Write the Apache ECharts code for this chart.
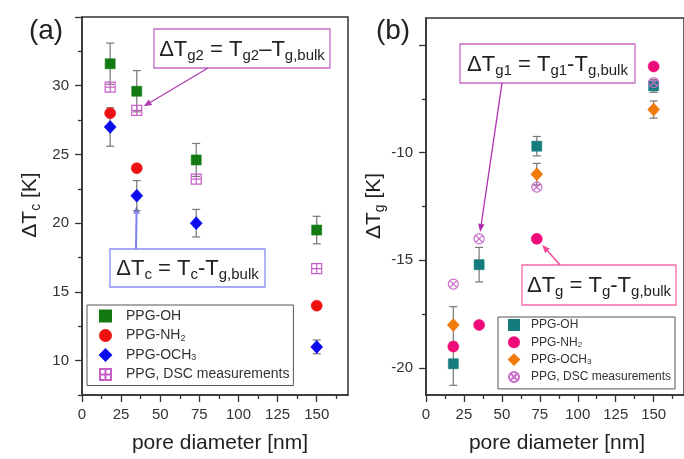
<!DOCTYPE html>
<html><head><meta charset="utf-8">
<script src="https://cdn.jsdelivr.net/npm/echarts@6/dist/echarts.min.js"></script>
<style>html,body{margin:0;padding:0;background:#fff}#c{width:684px;height:459px}</style>
</head><body><div id="c"></div>
<script>
// ---------------- data ----------------
const poreDiameter = [18, 35, 73, 150];
// panel (a): ΔTc [K]
const tcOH = [31.6, 29.6, 24.6, 19.5];
const tcOHErr = [1.5, 1.5, 1.2, 1.0];
const tcNH2 = [28.0, 24.0, null, 14.0];
const tcOCH3 = [27.0, 22.0, 20.0, 11.0];
const tcOCH3Err = [1.4, 1.1, 1.0, 0.5];
const tcDSC = [29.9, 28.2, 23.2, 16.7];
// panel (b): ΔTg [K]
const tgOH = [-19.8, -15.2, -9.7, -6.9];
const tgOHErr = [1.0, 0.8, 0.45, 0.3];
const tgNH2 = [-19.0, -18.0, -14.0, -6.0];
const tgOCH3 = [-18.0, null, -11.0, -8.0];
const tgOCH3Err = [0.85, null, 0.5, 0.4];
const tgDSC = [-16.1, -14.0, -11.6, -6.75];
// ticks
const xMajorTicks = [0, 25, 50, 75, 100, 125, 150];
const xMinorTicks = [12.5, 37.5, 62.5, 87.5, 112.5, 137.5, 162.5];
const xTickLabels = [0, 25, 50, 75, 100, 125, 150];
const tcMajorTicks = [10, 15, 20, 25, 30, 35];
const tcMinorTicks = [7.5, 12.5, 17.5, 22.5, 27.5, 32.5];
const tcTickLabels = [10, 15, 20, 25, 30];
const tgMajorTicks = [-20, -15, -10, -5];
const tgMinorTicks = [-17.5, -12.5, -7.5];
const tgTickLabels = [-20, -15, -10];
const legendLabels = ['PPG-OH', 'PPG-NH{s|2}', 'PPG-OCH{s|3}', 'PPG, DSC measurements'];

// ---------------- helpers ----------------
const FF = '"Liberation Sans", Arial, Helvetica, sans-serif';
const pts = ys => poreDiameter.map((x, i) => ys[i] == null ? null : [x, ys[i]]).filter(Boolean);
const errPts = (ys, es) => poreDiameter.map((x, i) => (ys[i] == null || es[i] == null) ? null : [x, ys[i], es[i]]).filter(Boolean);

const gridL = {left: 82, top: 17, right: 336, bottom: 64};
const gridR = {left: 426, top: 18, right: -19, bottom: 64};

function xAxis(gi, minor) {
  return {
    type: 'value', gridIndex: gi, min: 0, max: 170, position: 'bottom',
    axisLine: {show: !minor, onZero: false, lineStyle: {color: '#333', width: 1.5}},
    axisTick: {show: true, length: minor ? 4 : 7, customValues: minor ? xMinorTicks : xMajorTicks,
      lineStyle: {color: '#333', width: 1.3}},
    axisLabel: minor ? {show: false} : {show: true, customValues: xTickLabels, margin: 12, fontSize: 15,
      color: '#333', fontFamily: FF},
    splitLine: {show: false}
  };
}
function yAxis(gi, min, max, majors, minors, labels, minor) {
  return {
    type: 'value', gridIndex: gi, min, max, position: 'left',
    axisLine: {show: !minor, onZero: false, lineStyle: {color: '#333', width: 1.5}},
    axisTick: {show: true, length: minor ? 4 : 7, customValues: minor ? minors : majors,
      lineStyle: {color: '#333', width: 1.3}},
    axisLabel: minor ? {show: false} : {show: true, customValues: labels, margin: 13, fontSize: 15,
      color: '#333', fontFamily: FF},
    splitLine: {show: false}
  };
}
function scatter(name, gi, ys, symbol, size, color, hollow) {
  return {
    type: 'scatter', name, xAxisIndex: gi, yAxisIndex: gi, data: pts(ys), symbol, symbolSize: size,
    itemStyle: hollow ? {color: 'rgba(255,255,255,0)', borderColor: color, borderWidth: 1.2, opacity: 1}
                      : {color: color, borderColor: color, borderWidth: 0.6, opacity: 1},
    z: 5, silent: true
  };
}
function errSeries(gi, ys, es) {
  return {
    type: 'custom', xAxisIndex: gi, yAxisIndex: gi, data: errPts(ys, es), z: 2, silent: true,
    renderItem: (params, api) => {
      const x = api.value(0), y = api.value(1), e = api.value(2);
      const t = api.coord([x, y + e]), b = api.coord([x, y - e]);
      const w = 4, st = {stroke: '#777', lineWidth: 1.2};
      return {type: 'group', children: [
        {type: 'line', shape: {x1: t[0], y1: t[1], x2: b[0], y2: b[1]}, style: st},
        {type: 'line', shape: {x1: t[0] - w, y1: t[1], x2: t[0] + w, y2: t[1]}, style: st},
        {type: 'line', shape: {x1: b[0] - w, y1: b[1], x2: b[0] + w, y2: b[1]}, style: st}
      ]};
    }
  };
}
const SQ_CROSS = 'path://M0,0H10V10H0Z M5,0V10 M0,5H10';
const CIRC_X = 'path://M5,0A5,5 0 1,1 5,10A5,5 0 1,1 5,0Z M1.6,1.6L8.4,8.4 M8.4,1.6L1.6,8.4';

const names = ['a0', 'a1', 'a2', 'a3', 'b0', 'b1', 'b2', 'b3'];
const nameLabel = {};
names.forEach((n, i) => nameLabel[n] = legendLabels[i % 4]);

const option = {
  animation: false,
  backgroundColor: '#fff',
  grid: [
    Object.assign({show: true, borderColor: '#333', borderWidth: 1.5}, gridL),
    Object.assign({show: true, borderColor: '#333', borderWidth: 1.5}, gridR),
    Object.assign({show: false}, gridL),
    Object.assign({show: false}, gridR)
  ],
  xAxis: [xAxis(0, false), xAxis(1, false), xAxis(2, true), xAxis(3, true)],
  yAxis: [
    yAxis(0, 7.5, 35, tcMajorTicks, tcMinorTicks, tcTickLabels, false),
    yAxis(1, -21.25, -3.75, tgMajorTicks, tgMinorTicks, tgTickLabels, false),
    yAxis(2, 7.5, 35, tcMajorTicks, tcMinorTicks, tcTickLabels, true),
    yAxis(3, -21.25, -3.75, tgMajorTicks, tgMinorTicks, tgTickLabels, true)
  ],
  legend: [
    {data: ['a0', 'a1', 'a2', 'a3'], orient: 'vertical', left: 87, top: 305,
     padding: [3, 4, 3, 12], itemGap: 3.5, itemWidth: 11, itemHeight: 11,
     borderColor: '#555', borderWidth: 1, selectedMode: false,
     formatter: n => nameLabel[n],
     textStyle: {fontSize: 14, lineHeight: 16, color: '#333', fontFamily: FF, padding: [0, 0, 0, 10],
       rich: {s: {fontSize: 9, lineHeight: 10, padding: [6, 0, 0, 0], fontFamily: FF, color: '#333'}}}},
    {data: ['b0', 'b1', 'b2', 'b3'], orient: 'vertical', left: 498, top: 317,
     padding: [1, 4, 5, 10], itemGap: 3.3, itemWidth: 10, itemHeight: 10,
     borderColor: '#555', borderWidth: 1, selectedMode: false,
     formatter: n => nameLabel[n],
     textStyle: {fontSize: 12, lineHeight: 14, color: '#333', fontFamily: FF, padding: [0, 0, 0, 7],
       rich: {s: {fontSize: 8, lineHeight: 9, padding: [5, 0, 0, 0], fontFamily: FF, color: '#333'}}}}
  ],
  series: [
    errSeries(0, tcOH, tcOHErr),
    errSeries(0, tcOCH3, tcOCH3Err),
    scatter('a0', 0, tcOH, 'rect', 10, '#137a13'),
    scatter('a1', 0, tcNH2, 'circle', 11, '#ee1111'),
    scatter('a2', 0, tcOCH3, 'diamond', [12, 13], '#0b0bee'),
    scatter('a3', 0, tcDSC, SQ_CROSS, 10, '#c85ec8', true),
    errSeries(1, tgOH, tgOHErr),
    errSeries(1, tgOCH3, tgOCH3Err),
    scatter('b0', 1, tgOH, 'rect', 10, '#147c7c'),
    scatter('b1', 1, tgNH2, 'circle', 11, '#ee0a78'),
    scatter('b2', 1, tgOCH3, 'diamond', [12, 13], '#f07a0a'),
    scatter('b3', 1, tgDSC, CIRC_X, 10, '#c86ec8', true)
  ]
};

const chart = echarts.init(document.getElementById('c'), null, {renderer: 'canvas'});
chart.setOption(option);

// ---------------- annotations ----------------
const annRich = {
  m: {fontSize: 22, lineHeight: 25, fontFamily: FF, color: '#222'},
  s: {fontSize: 15, lineHeight: 15, padding: [12, 0, 0, 0], fontFamily: FF, color: '#222'}
};
function box(x, y, w, h, stroke, text) {
  return {type: 'group', children: [
    {type: 'rect', shape: {x, y, width: w, height: h}, style: {fill: 'rgba(255,255,255,0)', stroke, lineWidth: 1.3}},
    {type: 'text', x: x + w / 2, y: y + h / 2 + 1, style: {text, rich: annRich, fill: '#222',
      align: 'center', verticalAlign: 'middle', textAlign: 'center', textVerticalAlign: 'middle'}}
  ]};
}
function arrow(sx, sy, gi, dx, dy, off, color, lw) {
  const p = chart.convertToPixel({gridIndex: gi}, [dx, dy]);
  let vx = sx - p[0], vy = sy - p[1];
  const L0 = Math.hypot(vx, vy); vx /= L0; vy /= L0;
  const ex = p[0] + vx * off, ey = p[1] + vy * off;
  const ux = -vx, uy = -vy, hl = 8, hw = 3.2;
  const bx = ex - ux * hl, by = ey - uy * hl;
  return [
    {type: 'line', shape: {x1: sx, y1: sy, x2: bx, y2: by}, style: {stroke: color, lineWidth: lw}},
    {type: 'polygon', shape: {points: [[ex, ey], [bx - uy * hw, by + ux * hw], [bx + uy * hw, by - ux * hw]]},
     style: {fill: color}}
  ];
}
function txt(x, y, text, size, rot) {
  return {type: 'text', x, y, rotation: rot || 0, style: {text, fill: '#222', fontSize: size, fontFamily: FF,
    rich: {m: {fontSize: size, lineHeight: size + 4, fontFamily: FF, color: '#222'},
           s: {fontSize: Math.round(size * 0.68), lineHeight: Math.round(size * 0.68), padding: [Math.round(size * 0.55), 0, 0, 0], fontFamily: FF, color: '#222'}},
    align: 'center', verticalAlign: 'middle', textAlign: 'center', textVerticalAlign: 'middle'}};
}

const graphics = [
  txt(46, 31, '(a)', 28),
  txt(393, 31, '(b)', 28),
  txt(30, 205, '{m|ΔT}{s|c}{m| [K]}', 21, Math.PI / 2),
  txt(374, 206, '{m|ΔT}{s|g}{m| [K]}', 21, Math.PI / 2),
  txt(220, 443, 'pore diameter [nm]', 21),
  txt(557, 443, 'pore diameter [nm]', 21),
  box(154, 29, 176, 39, '#c76bc7', '{m|ΔT}{s|g2}{m| = T}{s|g2}{m|–T}{s|g,bulk}'),
  box(110, 249, 155, 38, '#8c8cf5', '{m|ΔT}{s|c}{m| = T}{s|c}{m|-T}{s|g,bulk}'),
  box(460, 44, 175, 39, '#c76bc7', '{m|ΔT}{s|g1}{m| = T}{s|g1}{m|-T}{s|g,bulk}'),
  box(522, 265, 154, 40, '#f56aa8', '{m|ΔT}{s|g}{m| = T}{s|g}{m|-T}{s|g,bulk}')
]
  .concat(arrow(208, 68, 0, 35, 28.2, 8, '#b03cb0', 1.3))
  .concat(arrow(136, 249, 0, 35, 22.0, 10, '#7f7ff5', 2))
  .concat(arrow(502, 83, 1, 35, -14.0, 7, '#b02cb0', 1.3))
  .concat(arrow(560, 265, 1, 73, -14.0, 8, '#f54a98', 1.5));

chart.setOption({graphic: graphics});
</script>
</body></html>
